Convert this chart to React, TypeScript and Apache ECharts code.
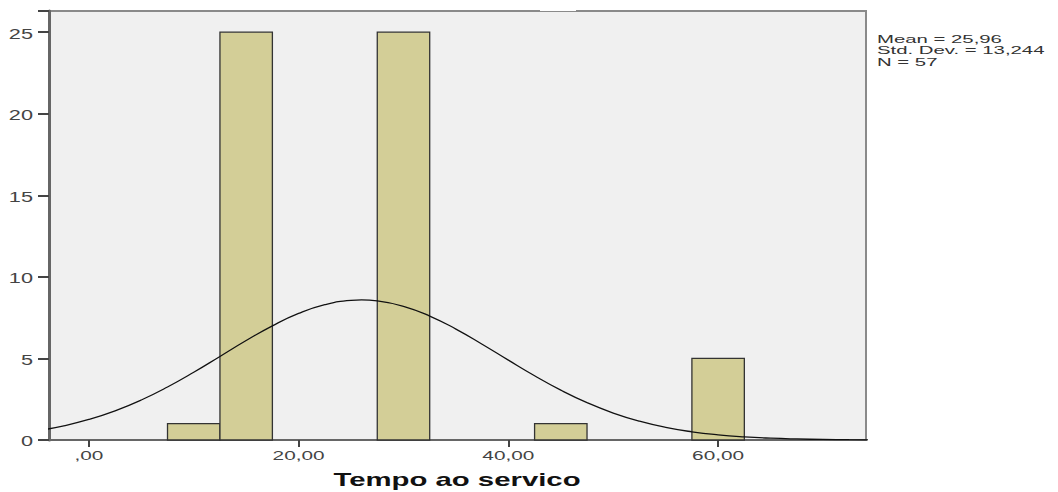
import React, { useEffect, useRef } from "react";
import * as echarts from "echarts";

const binLow = [7.5, 12.5, 27.5, 42.5, 57.5];
const binHigh = [12.5, 17.5, 32.5, 47.5, 62.5];
const counts = [1, 25, 25, 1, 5];

const curveX = [-5, -2.5, 0, 2.5, 5, 7.5, 10, 12.5, 15, 17.5, 20, 22.5, 25, 26, 27.5, 30, 32.5, 35, 37.5, 40, 42.5, 45, 47.5, 50, 52.5, 55, 57.5, 60, 62.5, 65, 67.5, 70, 72.5, 75];
const curveY = [0.559, 0.854, 1.257, 1.788, 2.453, 3.25, 4.153, 5.123, 6.096, 7.0, 7.758, 8.297, 8.562, 8.585, 8.527, 8.195, 7.6, 6.801, 5.873, 4.894, 3.936, 3.054, 2.287, 1.653, 1.153, 0.775, 0.504, 0.316, 0.191, 0.111, 0.063, 0.034, 0.018, 0.009];

const xTicks = [0, 20, 40, 60];
const xTickLabels = [",00", "20,00", "40,00", "60,00"];
const yTicks = [0, 5, 10, 15, 20, 25];
const xTitle = "Tempo ao servico";
const statsLines = ["Mean = 25,96", "Std. Dev. = 13,244", "N = 57"];

export default function App() {
  const ref = useRef<HTMLDivElement>(null);
  useEffect(() => {
    if (!ref.current) return;
    const chart = echarts.init(ref.current, undefined, { renderer: "svg" });
    const font = "'Liberation Sans', Arial, sans-serif";
    chart.setOption({
      animation: false,
      grid: {
        left: 49,
        top: 11,
        right: 192,
        bottom: 52,
        show: true,
        backgroundColor: "#f0f0f0",
        borderColor: "#8a8a8a",
        borderWidth: 2,
      },
      xAxis: {
        type: "value",
        min: -3.8,
        max: 74.1,
        axisLine: { show: true, onZero: false, lineStyle: { color: "#666", width: 2 } },
        axisTick: { show: true, customValues: xTicks, length: 7, lineStyle: { color: "#444", width: 2 } },
        axisLabel: { show: false },
        splitLine: { show: false },
      },
      yAxis: {
        type: "value",
        min: 0,
        max: 26.3,
        interval: 5,
        axisLine: { show: true, onZero: false, lineStyle: { color: "#666", width: 3 } },
        axisTick: { show: true, length: 11, lineStyle: { color: "#444", width: 2 } },
        axisLabel: { show: false },
        splitLine: { show: false },
      },
      series: [
        {
          type: "custom",
          data: counts.map((c, i) => [binLow[i], binHigh[i], c]),
          renderItem: (params: any, api: any) => {
            const p0 = api.coord([api.value(0), 0]);
            const p1 = api.coord([api.value(1), api.value(2)]);
            return {
              type: "rect",
              shape: { x: p0[0], y: p1[1], width: p1[0] - p0[0], height: p0[1] - p1[1] },
              style: { fill: "#d3ce97", stroke: "#333", lineWidth: 1.3 },
            };
          },
          z: 2,
        },
        {
          type: "line",
          data: curveX.map((x, i) => [x, curveY[i]]),
          smooth: true,
          showSymbol: false,
          lineStyle: { color: "#111", width: 1.3 },
          z: 3,
        },
      ],
    });

    const xLabelEls = xTicks.map((v, i) => {
      const p = chart.convertToPixel({ gridIndex: 0 }, [v, 0]) as number[];
      return {
        type: "text",
        x: p[0],
        y: 456,
        scaleX: 1.6,
        style: {
          text: xTickLabels[i],
          x: 0,
          y: 0,
          align: "center",
          verticalAlign: "middle",
          textAlign: "center",
          textVerticalAlign: "middle",
          fontFamily: font,
          fontSize: 13,
          fill: "#444",
        },
      };
    });
    const yLabelEls = yTicks.map((v) => {
      const p = chart.convertToPixel({ gridIndex: 0 }, [0, v]) as number[];
      return {
        type: "text",
        x: 33,
        y: p[1] + 1.5,
        scaleX: 1.55,
        style: {
          text: String(v),
          x: 0,
          y: 0,
          align: "right",
          verticalAlign: "middle",
          textAlign: "right",
          textVerticalAlign: "middle",
          fontFamily: font,
          fontSize: 14,
          fill: "#444",
        },
      };
    });
    const statEls = statsLines.map((t, i) => ({
      type: "text",
      x: 877,
      y: 38.5 + i * 11.5,
      scaleX: 1.85,
      style: {
        text: t,
        x: 0,
        y: 0,
        align: "left",
        verticalAlign: "middle",
        textAlign: "left",
        textVerticalAlign: "middle",
        fontFamily: font,
        fontSize: 11,
        fill: "#333",
      },
    }));
    chart.setOption({
      graphic: [
        {
          type: "rect",
          shape: { x: 540, y: 9, width: 36, height: 2 },
          style: { fill: "#ffffff" },
          z: 100,
        },
        ...xLabelEls,
        ...yLabelEls,
        ...statEls,
        {
          type: "text",
          x: 457,
          y: 480,
          scaleX: 1.63,
          style: {
            text: xTitle,
            x: 0,
            y: 0,
            align: "center",
            verticalAlign: "middle",
            textAlign: "center",
            textVerticalAlign: "middle",
            fontFamily: font,
            fontSize: 18,
            fontWeight: "bold",
            fill: "#111",
          },
        },
      ],
    });
    return () => chart.dispose();
  }, []);
  return <div ref={ref} style={{ position: "absolute", left: 0, top: 0, width: 1058, height: 492 }} />;
}
